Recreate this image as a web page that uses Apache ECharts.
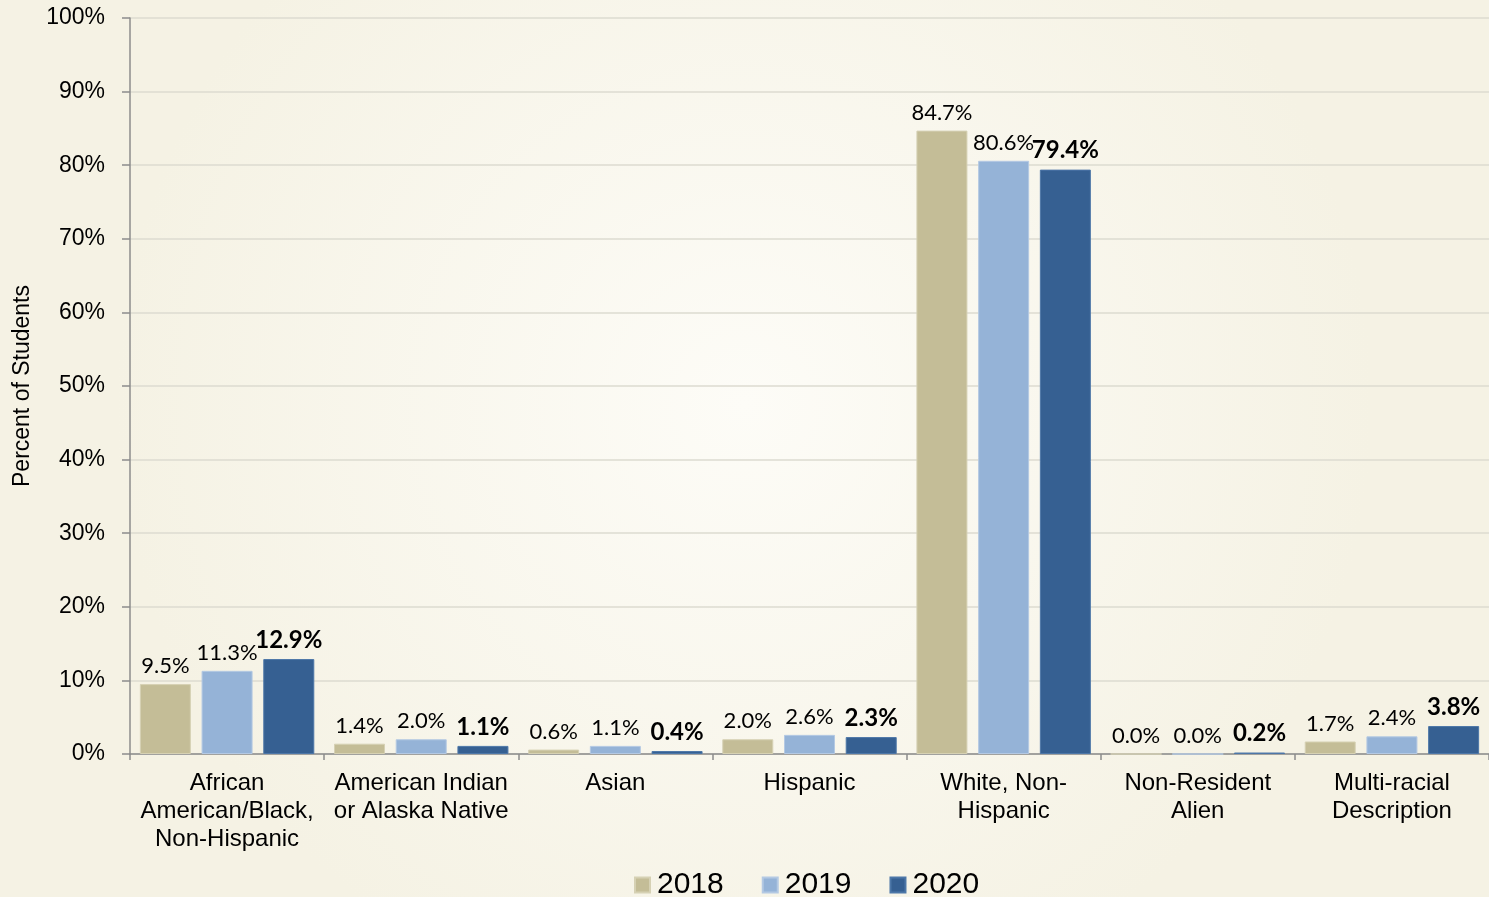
<!DOCTYPE html>
<html><head><meta charset="utf-8">
<script src="https://cdn.jsdelivr.net/npm/echarts@6/dist/echarts.min.js"></script>
<style>html,body{margin:0;padding:0;background:#f6f3e6}#c{width:1489px;height:897px}</style>
</head><body><div id="c"></div>
<script>
const categories = ['African\nAmerican/Black,\nNon-Hispanic','American Indian\nor Alaska Native','Asian','Hispanic','White, Non-\nHispanic','Non-Resident\nAlien','Multi-racial\nDescription'];
const years = ['2018','2019','2020'];
const v2018 = [9.5, 1.4, 0.6, 2.0, 84.7, 0.0, 1.7];
const v2019 = [11.3, 2.0, 1.1, 2.6, 80.6, 0.0, 2.4];
const v2020 = [12.9, 1.1, 0.4, 2.3, 79.4, 0.2, 3.8];
const yTicks = [0,10,20,30,40,50,60,70,80,90,100];
const colors = ['#c4bd97','#95b3d7','#366092'];

const chart = echarts.init(document.getElementById('c'));
function mk(name, data, i){
  const bold = i === 2;
  return {
    name, type:'bar', data,
    barWidth: 51, barGap: '21%',
    itemStyle:{color:colors[i], borderColor: i===0?'#d6d1b4':(i===1?'#b4c9e3':'#4d77a8'), borderWidth:1},
    label:{show:true, position:'top', distance:7,
      formatter: p => p.value.toFixed(1)+'%',
      fontFamily:'Lato, "Open Sans", sans-serif',
      fontSize: bold?24:22, fontWeight: bold?'bold':'normal', color:'#000'}
  };
}
chart.setOption({
  backgroundColor:{type:'radial',x:0.5,y:0.45,r:0.7,colorStops:[{offset:0,color:'#fdfcf7'},{offset:1,color:'#f5f2e4'}]},
  animation:false,
  grid:{left:130,right:0,top:18,bottom:143,containLabel:false},
  legend:{data:years, left:629, bottom:-8, itemWidth:15, itemHeight:15, itemGap:38, icon:'rect',
    textStyle:{fontFamily:'"Liberation Sans", Arial, sans-serif', fontSize:30, color:'#000', padding:[0,0,0,2]}},
  xAxis:{type:'category', data:categories,
    axisLine:{lineStyle:{color:'#8c8c8c', width:1.5}},
    axisTick:{show:true, length:6, lineStyle:{color:'#8c8c8c', width:1.5}},
    axisLabel:{interval:0, fontFamily:'"Liberation Sans", Arial, sans-serif', fontSize:24, color:'#000', lineHeight:28, margin:15}},
  yAxis:{type:'value', min:0, max:100, interval:10,
    name:'Percent of Students', nameLocation:'middle', nameGap:96, nameRotate:90,
    nameTextStyle:{fontFamily:'"Liberation Sans", Arial, sans-serif', fontSize:23, color:'#000'},
    axisLine:{show:true, lineStyle:{color:'#8c8c8c', width:1.5}},
    axisTick:{show:true, inside:false, length:8, lineStyle:{color:'#8c8c8c', width:1.5}},
    splitLine:{lineStyle:{color:'#dddbd0', width:1.5}},
    axisLabel:{formatter: v => yTicks.includes(v) ? v+'%' : '', fontFamily:'"Liberation Sans", Arial, sans-serif', fontSize:23, color:'#000', margin:25}},
  series:[mk(years[0], v2018, 0), mk(years[1], v2019, 1), mk(years[2], v2020, 2)]
});
</script></body></html>
